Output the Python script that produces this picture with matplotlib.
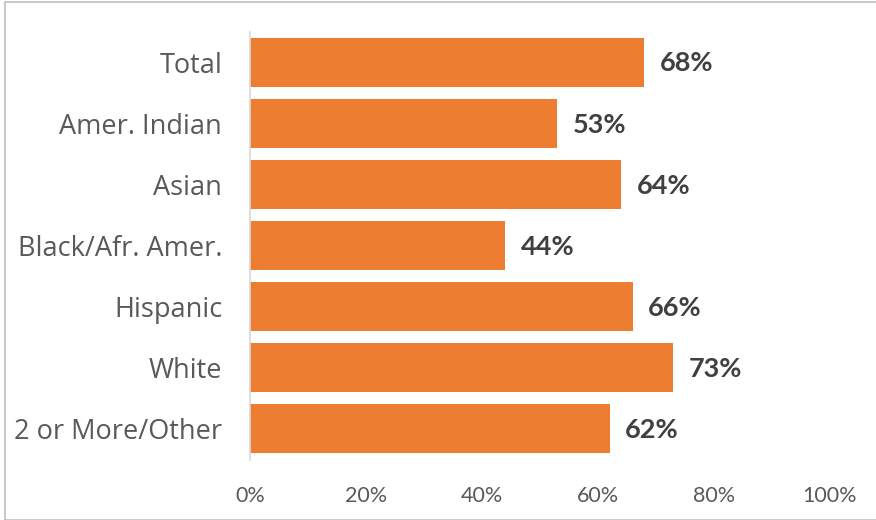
import matplotlib
matplotlib.use("Agg")
import matplotlib.pyplot as plt
from matplotlib.patches import Rectangle
from matplotlib.ticker import FuncFormatter

categories = ["Total", "Amer. Indian", "Asian", "Black/Afr. Amer.",
              "Hispanic", "White", "2 or More/Other"]
values = [68, 53, 64, 44, 66, 73, 62]
x_ticks = [0, 20, 40, 60, 80, 100]

W, H = 876, 520
fig = plt.figure(figsize=(W / 100, H / 100), dpi=100)

# light gray outer frame
fig.patches.append(Rectangle((5 / W, 0), 1, 1 - 2 / H, transform=fig.transFigure,
                             fill=False, edgecolor="#BFBFBF", linewidth=1.2))

ax = fig.add_axes([250 / W, (H - 459.5) / H, 580 / W, 428 / H])
y = list(range(len(categories)))
ax.barh(y, values, height=0.8, color="#ED7D31")
ax.set_ylim(len(categories) - 0.5, -0.5)
ax.set_xlim(0, 100)

ax.set_yticks(y)
ax.set_yticklabels(categories, fontfamily="Open Sans", fontsize=19.5, color="#595959")
ax.set_xticks(x_ticks)
ax.xaxis.set_major_formatter(FuncFormatter(lambda v, p: f"{v:.0f}%"))
for lbl in ax.get_xticklabels():
    lbl.set_fontfamily("Lato")
    lbl.set_fontsize(15.5)
    lbl.set_color("#595959")
ax.tick_params(axis="both", length=0)
ax.tick_params(axis="y", pad=20)
ax.tick_params(axis="x", pad=19)

for s in ["top", "right", "bottom"]:
    ax.spines[s].set_visible(False)
ax.spines["left"].set_color("#D9D9D9")
ax.spines["left"].set_linewidth(1.2)

for yi, v in zip(y, values):
    ax.annotate(f"{v}%", (v, yi), xytext=(11, -1), textcoords="offset points",
                va="center", ha="left", fontfamily="Lato", fontweight="bold",
                fontsize=19.5, color="#404040")

fig.savefig("out.png", dpi=100)
